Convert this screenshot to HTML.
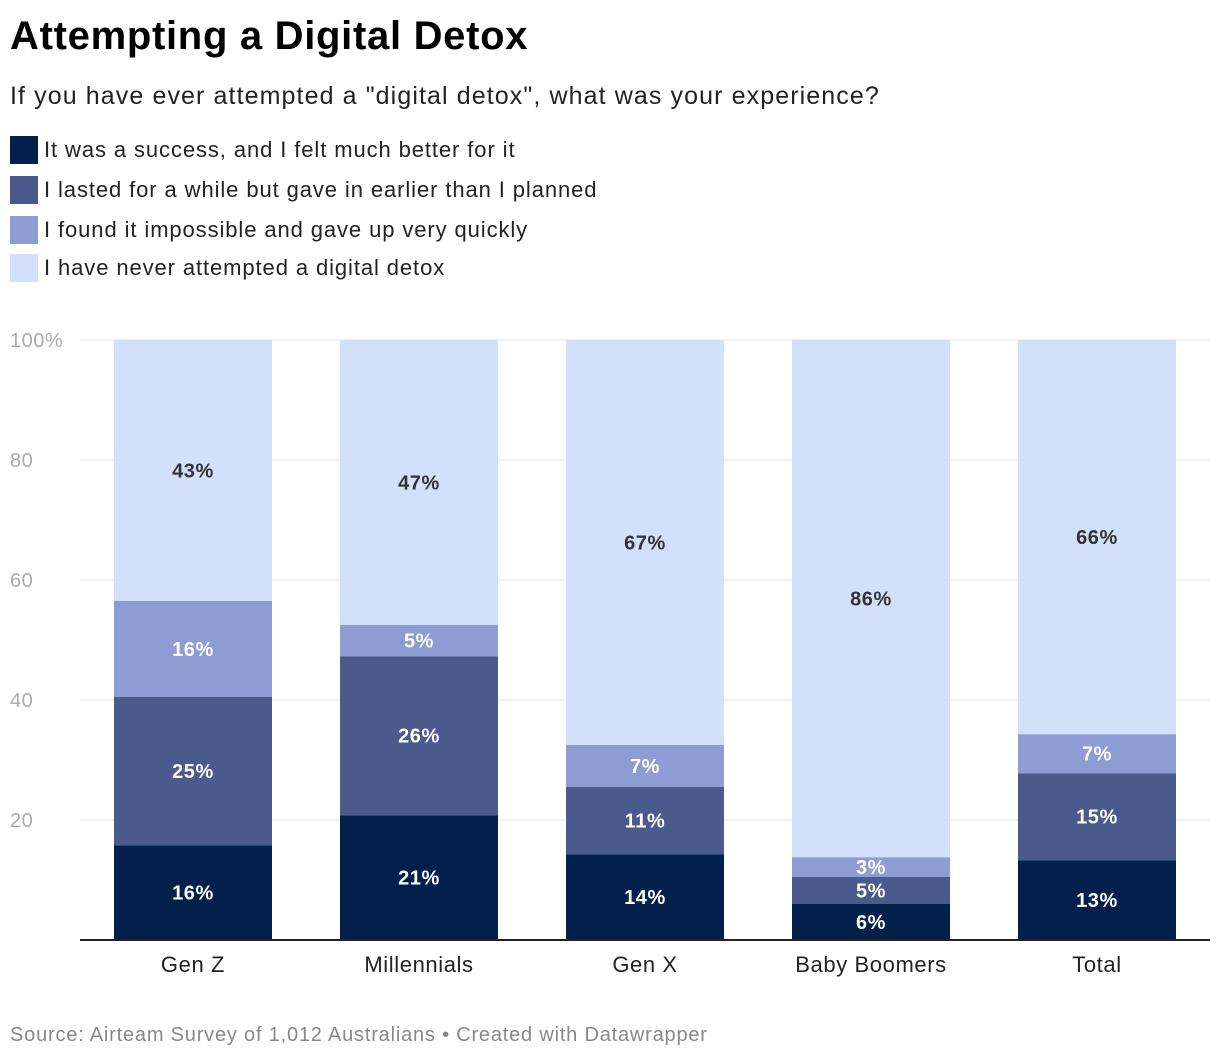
<!DOCTYPE html>
<html><head><meta charset="utf-8"><style>
body{margin:0;background:#fff;font-family:"Liberation Sans",Arial,sans-serif;}
#c{position:relative;width:1220px;height:1062px;overflow:hidden}
.t{position:absolute;left:10px;top:14px;font-size:40px;font-weight:bold;color:#000;letter-spacing:0.7px}
.s{position:absolute;left:10px;top:82px;font-size:25px;color:#222;letter-spacing:1.1px}
.lg{position:absolute;left:10px;font-size:22px;color:#222;display:flex;align-items:center;letter-spacing:0.9px}
.lg span{display:inline-block;width:28px;height:28px;margin-right:6px}
.src{position:absolute;left:10px;top:1024px;font-size:20px;color:#888;letter-spacing:0.8px}
</style></head><body>
<div id="c">
<div class="t">Attempting a Digital Detox</div>
<div class="s">If you have ever attempted a "digital detox", what was your experience?</div>
<div class="lg" style="top:136px"><span style="background:#03204d"></span>It was a success, and I felt much better for it</div>
<div class="lg" style="top:176px"><span style="background:#4a5a8c"></span>I lasted for a while but gave in earlier than I planned</div>
<div class="lg" style="top:216px"><span style="background:#8d9dd4"></span>I found it impossible and gave up very quickly</div>
<div class="lg" style="top:254px"><span style="background:#d2e0fc"></span>I have never attempted a digital detox</div>
<svg id="svg" width="1220" height="1062" style="position:absolute;left:0;top:0"></svg>
<div class="src">Source: Airteam Survey of 1,012 Australians • Created with Datawrapper</div>
</div>
<script>
const categories=["Gen Z","Millennials","Gen X","Baby Boomers","Total"];
const success=[15.8,20.8,14.3,6,13.3];
const lasted=[24.7,26.5,11.2,4.5,14.5];
const impossible=[16,5.2,7,3.3,6.5];
const never=[43.5,47.5,67.5,86.2,65.7];
const successLabels=["16%","21%","14%","6%","13%"];
const lastedLabels=["25%","26%","11%","5%","15%"];
const impossibleLabels=["16%","5%","7%","3%","7%"];
const neverLabels=["43%","47%","67%","86%","66%"];
const ticks=[20,40,60,80,100];
const tickLabels=["20","40","60","80","100%"];
const NS="http://www.w3.org/2000/svg";
const svg=document.getElementById('svg');
const y=v=>940-v*6;
const xStart=i=>114+i*226;
const bw=158;
function mk(t,a){const e=document.createElementNS(NS,t);for(const k in a)e.setAttribute(k,a[k]);svg.appendChild(e);return e;}
ticks.forEach((t,i)=>{
 const l=mk('line',{x1:80,x2:1210,y1:y(t),y2:y(t),stroke:'#e3e3e3','stroke-width':1});
 
 
 const tx=mk('text',{x:10,y:y(t)+7,'font-size':20,fill:'#aaa','letter-spacing':0.5});tx.textContent=tickLabels[i];
 
 
});
const series=[[success,successLabels,'#03204d','#fff','success'],[lasted,lastedLabels,'#4a5a8c','#fff','lasted'],[impossible,impossibleLabels,'#8d9dd4','#fff','impossible'],[never,neverLabels,'#d2e0fc','#333','never']];
categories.forEach((c,i)=>{
 let base=0;
 series.forEach(s=>{
  const v=s[0][i];
  const r=mk('rect',{x:xStart(i),y:y(base+v),width:bw,height:v*6,fill:s[2]});
  
  
  const t=mk('text',{x:xStart(i)+bw/2,y:y(base+v/2)+7,'font-size':20,'font-weight':'bold',fill:s[3],'text-anchor':'middle','letter-spacing':0.6});
  t.textContent=s[1][i];
  
  
  base+=v;
 });
 const cl=mk('text',{x:xStart(i)+bw/2,y:972,'font-size':22,fill:'#222','text-anchor':'middle','letter-spacing':0.6});cl.textContent=c;
 
 
});
const ax=mk('line',{x1:80,x2:1210,y1:940,y2:940,stroke:'#222','stroke-width':2});


</script>
</body></html>
